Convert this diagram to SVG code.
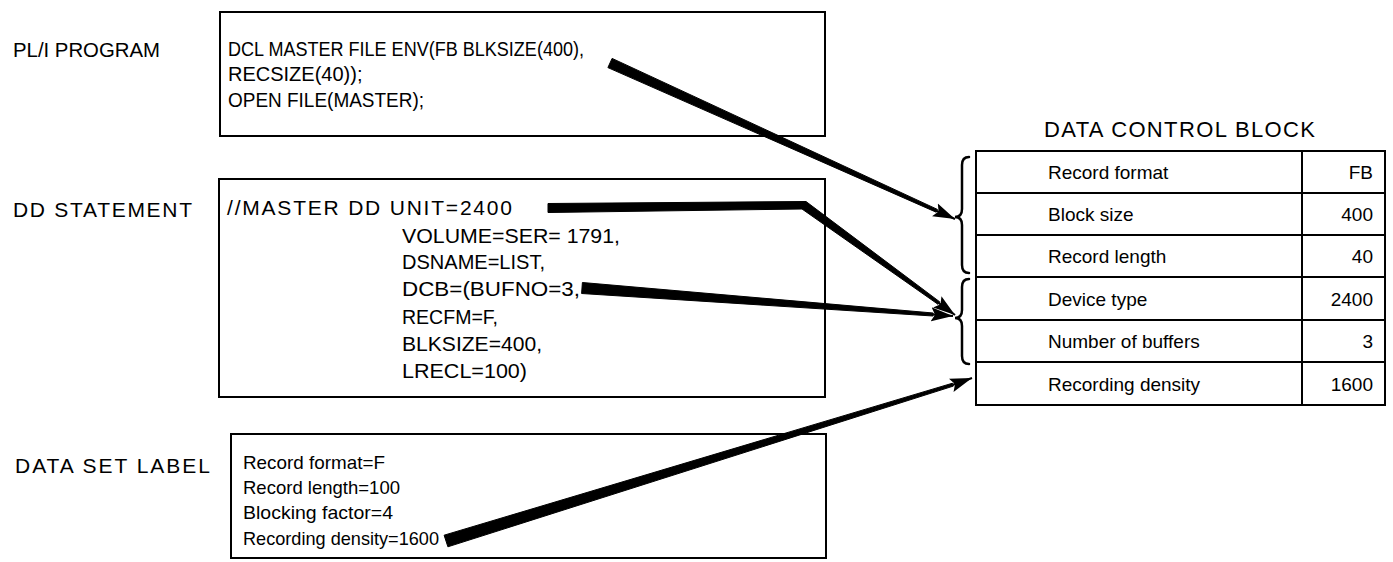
<svg xmlns="http://www.w3.org/2000/svg" width="1393" height="562" viewBox="0 0 1393 562">
<defs>
<style>
text{font-family:"Liberation Sans",Arial,sans-serif;fill:#000;}
.lbl{font-size:21px;}
.t{font-size:20px;}
.d{font-size:21px;}
.s{font-size:19px;}
.c{font-size:19px;}
.ttl{font-size:22px;}
.box{fill:none;stroke:#000;stroke-width:2;}
.brace{fill:none;stroke:#000;stroke-width:2.5;stroke-linecap:round;}
.shaft{fill:#000;stroke:#000;stroke-width:1;stroke-linejoin:round;}
.tip{stroke:#000;stroke-width:2;fill:none;}
</style>
<marker id="ah" markerUnits="userSpaceOnUse" markerWidth="24" markerHeight="16" refX="22" refY="8" orient="auto">
<path d="M0,1 L22,8 L0,15 L4,8 z" fill="#000"/>
</marker>
</defs>

<g id="pli-program">
<text class="lbl" x="13" y="57" textLength="147" lengthAdjust="spacingAndGlyphs">PL/I PROGRAM</text>
<rect class="box" x="220" y="12" width="605" height="124"/>
<text class="t" x="228" y="56" textLength="356" lengthAdjust="spacingAndGlyphs">DCL MASTER FILE ENV(FB BLKSIZE(400),</text>
<text class="t" x="228" y="81">RECSIZE(40));</text>
<text class="t" x="228" y="107" textLength="196" lengthAdjust="spacingAndGlyphs">OPEN FILE(MASTER);</text>
</g>

<g id="dd-statement">
<text class="lbl" x="13" y="217" textLength="179" lengthAdjust="spacing">DD STATEMENT</text>
<rect class="box" x="219" y="179" width="606" height="218"/>
<text class="d" x="227" y="215" textLength="285" lengthAdjust="spacing">//MASTER DD UNIT=2400</text>
<text class="d" x="402" y="243" textLength="218" lengthAdjust="spacingAndGlyphs">VOLUME=SER= 1791,</text>
<text class="d" x="402" y="269" textLength="143" lengthAdjust="spacingAndGlyphs">DSNAME=LIST,</text>
<text class="d" x="402" y="296" textLength="178" lengthAdjust="spacingAndGlyphs">DCB=(BUFNO=3,</text>
<text class="d" x="402" y="324" textLength="96" lengthAdjust="spacingAndGlyphs">RECFM=F,</text>
<text class="d" x="402" y="351" textLength="140" lengthAdjust="spacingAndGlyphs">BLKSIZE=400,</text>
<text class="d" x="402" y="378" textLength="125" lengthAdjust="spacingAndGlyphs">LRECL=100)</text>
</g>

<g id="data-set-label">
<text class="lbl" x="15" y="473" textLength="195" lengthAdjust="spacing">DATA SET LABEL</text>
<rect class="box" x="231" y="434" width="595" height="124"/>
<text class="s" x="243" y="469" textLength="142" lengthAdjust="spacingAndGlyphs">Record format=F</text>
<text class="s" x="243" y="494" textLength="157" lengthAdjust="spacingAndGlyphs">Record length=100</text>
<text class="s" x="243" y="519" textLength="150" lengthAdjust="spacingAndGlyphs">Blocking factor=4</text>
<text class="s" x="243" y="545" textLength="196" lengthAdjust="spacingAndGlyphs">Recording density=1600</text>
</g>

<g id="data-control-block">
<text class="ttl" x="1044" y="137" textLength="271" lengthAdjust="spacing">DATA CONTROL BLOCK</text>
<rect class="box" x="976" y="151" width="409" height="254"/>
<line class="box" x1="976" y1="193" x2="1385" y2="193"/>
<line class="box" x1="976" y1="235" x2="1385" y2="235"/>
<line class="box" x1="976" y1="277" x2="1385" y2="277"/>
<line class="box" x1="976" y1="320" x2="1385" y2="320"/>
<line class="box" x1="976" y1="362" x2="1385" y2="362"/>
<line class="box" x1="1302" y1="151" x2="1302" y2="405"/>
<text class="c" x="1048" y="179">Record format</text>
<text class="c" x="1048" y="221">Block size</text>
<text class="c" x="1048" y="263">Record length</text>
<text class="c" x="1048" y="306">Device type</text>
<text class="c" x="1048" y="348">Number of buffers</text>
<text class="c" x="1048" y="391">Recording density</text>
<text class="c" x="1373" y="179" text-anchor="end">FB</text>
<text class="c" x="1373" y="221" text-anchor="end">400</text>
<text class="c" x="1373" y="263" text-anchor="end">40</text>
<text class="c" x="1373" y="306" text-anchor="end">2400</text>
<text class="c" x="1373" y="348" text-anchor="end">3</text>
<text class="c" x="1373" y="391" text-anchor="end">1600</text>
<path class="brace" d="M969,157 Q962,157 962,165 L962,209 Q962,217 955,217 Q962,217 962,225 L962,265 Q962,273 969,273"/>
<path class="brace" d="M969,279 Q962,279 962,287 L962,310 Q962,318 955,318 Q962,318 962,326 L962,356 Q962,364 969,364"/>
</g>

<g id="connectors">
<path class="shaft" d="M607.9,67.6 L612.1,58.4 L937.4,209.4 L936.2,212.2 z"/>
<line class="tip" x1="936.8" y1="210.8" x2="955" y2="219" marker-end="url(#ah)"/>
<path class="shaft" d="M548,203.5 L806,201.5 L939.8,301.9 L938,304.3 L802,209 L548,212.5 z"/>
<line class="tip" x1="938.9" y1="303.1" x2="955" y2="315" marker-end="url(#ah)"/>
<path class="shaft" d="M582.4,282.5 L933.2,313 L933,316 L581.6,293.5 z"/>
<line class="tip" x1="933.1" y1="314.5" x2="953" y2="316" marker-end="url(#ah)"/>
<path class="shaft" d="M447.9,546.8 L444.1,535.2 L952.5,383.2 L953.3,386.1 z"/>
<line class="tip" x1="952.9" y1="384.7" x2="972" y2="378" marker-end="url(#ah)"/>
</g>
</svg>
